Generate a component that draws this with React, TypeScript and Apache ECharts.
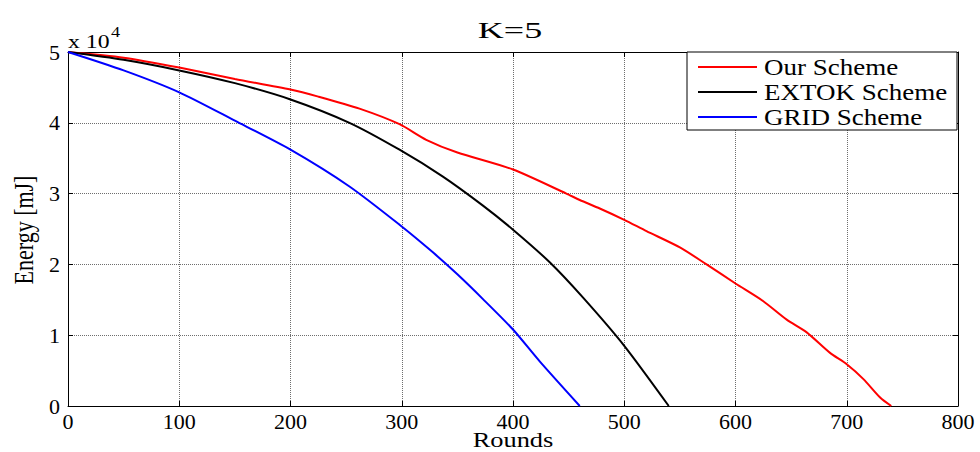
import React, { useEffect, useRef } from "react";
import * as echarts from "echarts";

const titleText = "K=5";
const xName = "Rounds";
const yName = "Energy [mJ]";
const seriesNames = ["Our Scheme", "EXTOK Scheme", "GRID Scheme"];
const seriesColors = ["#ff0000", "#000000", "#0000ff"];

const ourRounds = [0, 50, 100, 150, 200, 225, 262, 298, 322, 350, 400, 448, 460, 478, 500, 520, 550, 574, 600, 625, 646, 664, 685, 700, 715, 730, 740];
const ourEnergy = [50000, 49200, 47800, 46200, 44700, 43700, 42000, 39800, 37600, 35800, 33400, 30000, 29100, 27900, 26300, 24700, 22400, 20000, 17300, 14800, 12200, 10400, 7500, 5900, 3800, 1200, 0];

const extokRounds = [0, 50, 100, 150, 200, 253, 298, 337, 373, 400, 433, 463, 500, 540];
const extokEnergy = [50000, 48900, 47400, 45600, 43300, 40000, 36200, 32400, 28300, 24900, 20300, 15300, 8500, 0];

const gridRounds = [0, 50, 100, 150, 200, 253, 298, 328, 350, 373, 400, 424, 460];
const gridEnergy = [50000, 47400, 44300, 40300, 36200, 31000, 25600, 21700, 18600, 15100, 10800, 6300, 0];

const xMin = 0, xMax = 800, xStep = 100;
const yMin = 0, yMax = 50000, yStep = 10000;
const yScale = 10000;

const FONT = "'Liberation Serif', 'Times New Roman', serif";

function pairs(xs: number[], ys: number[]) {
  return xs.map((x, i) => [x, ys[i]]);
}

export default function App() {
  const ref = useRef<HTMLDivElement>(null);
  useEffect(() => {
    if (!ref.current) return;
    const chart = echarts.init(ref.current, undefined, { renderer: "svg" });
    const G = { left: 68, top: 52, width: 890, height: 354 };
    const data = [pairs(ourRounds, ourEnergy), pairs(extokRounds, extokEnergy), pairs(gridRounds, gridEnergy)];

    const legendX = 687, legendY = 52, legendW = 270, legendH = 78;
    const rowY = [67, 92, 117];
    const legendItems: any[] = [
      {
        type: "rect",
        shape: { x: legendX, y: legendY, width: legendW, height: legendH },
        style: { fill: "#fff", stroke: "#000", lineWidth: 1 },
        z: 100,
      },
    ];
    seriesNames.forEach((n, i) => {
      legendItems.push({
        type: "line",
        shape: { x1: 698, y1: rowY[i], x2: 757, y2: rowY[i] },
        style: { stroke: seriesColors[i], lineWidth: 2 },
        z: 101,
      });
      legendItems.push({
        type: "text",
        x: 764,
        y: rowY[i],
        scaleX: 1.2,
        style: { text: n, font: `22.5px ${FONT}`, fill: "#000", textAlign: "left", textVerticalAlign: "middle" },
        z: 101,
      });
    });

    const axisCommon = {
      axisLine: { show: true, onZero: false, lineStyle: { color: "#000", width: 1 } },
      axisTick: { show: true, inside: true, length: 5, lineStyle: { color: "#000" } },
    };

    chart.setOption({
      animation: false,
      backgroundColor: "#fff",
      grid: { ...G, containLabel: false },
      xAxis: [
        {
          type: "value",
          min: xMin,
          max: xMax,
          interval: xStep,
          ...axisCommon,
          axisLabel: { color: "#000", fontFamily: FONT, fontSize: 22, margin: 4 },
          splitLine: { show: true, lineStyle: { color: "#6e6e6e", type: "dotted", width: 1 } },
        },
        {
          type: "value",
          position: "top",
          min: xMin,
          max: xMax,
          interval: xStep,
          ...axisCommon,
          axisLabel: { show: false },
          splitLine: { show: false },
        },
      ],
      yAxis: [
        {
          type: "value",
          min: yMin,
          max: yMax,
          interval: yStep,
          ...axisCommon,
          axisLabel: {
            color: "#000",
            fontFamily: FONT,
            fontSize: 22,
            margin: 8,
            formatter: (v: number) => String(v / yScale),
          },
          splitLine: { show: true, lineStyle: { color: "#6e6e6e", type: "dotted", width: 1 } },
        },
        {
          type: "value",
          position: "right",
          min: yMin,
          max: yMax,
          interval: yStep,
          ...axisCommon,
          axisLabel: { show: false },
          splitLine: { show: false },
        },
      ],
      series: seriesNames.map((n, i) => ({
        name: n,
        type: "line",
        data: data[i],
        showSymbol: false,
        symbol: "none",
        smooth: 0.25,
        lineStyle: { color: seriesColors[i], width: 2 },
        itemStyle: { color: seriesColors[i] },
        z: 3,
      })),
      graphic: [
        {
          type: "text",
          x: 510,
          y: 30,
          scaleX: 1.5,
          style: { text: titleText, font: `24px ${FONT}`, fill: "#000", textAlign: "center", textVerticalAlign: "middle" },
        },
        {
          type: "text",
          x: 68,
          y: 42,
          scaleX: 1.25,
          style: { text: "x 10", font: `19px ${FONT}`, fill: "#000", textAlign: "left", textVerticalAlign: "middle" },
        },
        {
          type: "text",
          x: 111,
          y: 33,
          scaleX: 1.3,
          style: { text: "4", font: `14px ${FONT}`, fill: "#000", textAlign: "left", textVerticalAlign: "middle" },
        },
        {
          type: "text",
          x: 513,
          y: 439,
          scaleX: 1.2,
          style: { text: xName, font: `22px ${FONT}`, fill: "#000", textAlign: "center", textVerticalAlign: "middle" },
        },
        {
          type: "text",
          x: 24,
          y: 230,
          rotation: Math.PI / 2,
          scaleY: 1.2,
          style: { text: yName, font: `22px ${FONT}`, fill: "#000", textAlign: "center", textVerticalAlign: "middle" },
        },
        ...legendItems,
      ],
    });
    return () => chart.dispose();
  }, []);
  return <div ref={ref} style={{ position: "fixed", left: 0, top: 0, width: 980, height: 452 }} />;
}
